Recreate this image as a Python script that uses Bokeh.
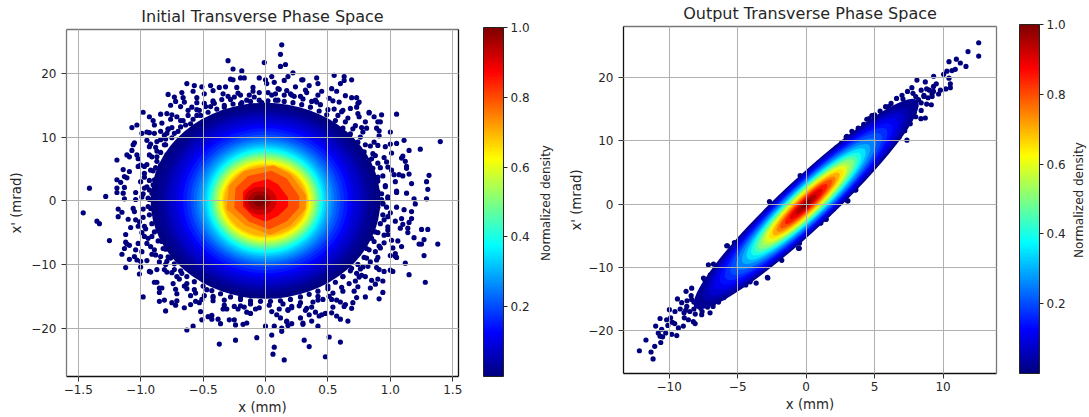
from bokeh.plotting import figure
from bokeh.layouts import row
from bokeh.embed import file_html
from bokeh.resources import INLINE
from bokeh.models import (ColorBar, ColumnDataSource, FixedTicker, LinearAxis,
                          LinearColorMapper, Range1d)
from bokeh.transform import transform

# ---- left panel: density levels (level, x semi-axis mm, x' semi-axis mrad)
init_levels = [0.005, 0.02, 0.04, 0.06, 0.08, 0.10, 0.125, 0.15, 0.175, 0.20, 0.225, 0.25, 0.275, 0.30, 0.325, 0.35,
               0.375, 0.40, 0.425, 0.45, 0.475, 0.50, 0.525, 0.55, 0.575, 0.60, 0.625, 0.65, 0.675, 0.70]
init_semi_x = [0.92, 0.87, 0.82, 0.79, 0.76, 0.72, 0.69, 0.66, 0.63, 0.60, 0.575, 0.55, 0.53, 0.51, 0.49, 0.475,
               0.46, 0.45, 0.44, 0.43, 0.42, 0.41, 0.40, 0.39, 0.38, 0.37, 0.36, 0.35, 0.34, 0.33]
init_semi_y = [15.4, 14.6, 14.0, 13.5, 13.0, 12.4, 11.9, 11.4, 10.9, 10.4, 10.0, 9.65, 9.3, 9.0, 8.7, 8.4,
               8.15, 7.9, 7.7, 7.5, 7.3, 7.1, 6.9, 6.7, 6.5, 6.3, 6.1, 5.9, 5.7, 5.5]
# irregular hot contours
init_blob_levels = [0.74, 0.80, 0.87]
init_blob_x = [[.067, .2, .328, .32, .2, .04, -.16, -.312, -.293, -.173],
               [.05, .17, .27, .27, .17, .03, -.13, -.25, -.24, -.14],
               [.02, .1, .18, .18, .1, 0, -.1, -.18, -.18, -.1]]
init_blob_y = [[5.58, 4.17, .78, -1.3, -3.9, -5.36, -3.9, -1.3, 2.34, 4.69],
               [4.7, 3.5, .7, -1.1, -3.2, -4.5, -3.3, -1.1, 2, 3.9],
               [3.4, 2.6, .5, -.9, -2.4, -3.3, -2.5, -.9, 1.4, 2.8]]
init_core_levels = [0.92, 0.96, 1.0]
init_core_x = [-.04, -.05, -.05]
init_core_semi_x = [.13, .09, .05]
init_core_semi_y = [2.2, 1.5, .9]

init_points = [
 (-1.41,1.98),(-1.28,.68),(-1.19,6.4),(-1.19,3.3),(-1.19,2),(-1.19,1.3),(-1.13,3.8),(-1.13,2.1),(-1.14,1.2),(-1.13,.3),
 (-1.11,7.2),(-1.07,7.9),(-1.05,9.1),(-1.07,11.5),(-1.03,11.9),(-1.09,4.6),(-1.02,6.6),(-1.02,5.4),(-.97,5.4),(-.98,13.9),
 (-.93,13.2),(-.95,10.8),(-.89,11.9),(-.83,12.2),(-.78,16.7),(-.73,16.3),(-.76,15),(-.79,13.7),(-.76,12.8),(-.68,14.8),
 (-.67,17),(-.63,18.4),(-.57,18.1),(-.58,17.2),(-.65,15.5),(-.55,16.2),(-.49,16.8),(-.42,17.3),(-.37,17.8),(-.32,17.9),
 (-.3,22),(-.26,20.7),(-.26,19),(-.19,20.4),(-.17,19.3),(-.23,17.8),(-.05,19.3),(-.01,21.7),(0,19),(.12,21.1),(.16,21.4),
 (.12,23),(.13,24.5),(.05,19.5),
 (-.95,9.5),(-.87,9.3),(-.93,8.5),(-.93,7.2),(-.87,6.9),(-.81,8.8),(-.79,7.2),(-.73,10.6),(-.92,4.8),(-.97,4.3),(-.89,3.3),
 (-.91,1.2),(-1,3),(-.93,.2),(-1.04,.2),(-.89,10.6),(-.81,10.3),(-.68,11.6),(-.6,12.1),(-.71,13.2),(-.59,14.7),(-.49,15.3),
 (-.41,15.3),(-.25,16.3),(-.15,15.8),(-.09,16.3),(.01,18.4),(.07,18.6),(.15,18.9),(.17,17.3),
 (-.53,14.2),(-.44,14.8),(-.33,15),(-.2,15.2),(-.03,15.4),(.05,16.6),(.1,15.8),(-.1,17.2),(-.3,16.4),(-.84,10.9),(-.78,11.2),
 (-.84,5.6),(-.88,5.2),(-.9,2.5),(-.86,3.9),(-.95,2.2),(-.88,.8),(-.98,1.1),(-.87,7.8),(-.8,9.7),(-.66,12.6),(-.55,13.4),
 (-1.46,-1.9),(-1.35,-3.2),(-1.33,-3.6),(-1.25,-6.25),(-1.18,-1.3),(-1.15,-1.8),(-1.1,-2.9),(-1.05,-1.7),(-1.04,-3),(-1.01,-3.3),
 (-1.15,-8.4),(-1.13,-7.5),(-1.12,-6.5),(-1.09,-7),(-1.09,-9.2),(-1.12,-10.5),(-1.05,-8.75),(-1,-9.5),(-1.01,-11.5),(-1.02,-6.7),
 (-.99,-8),(-.95,-9.4),(-.93,-11.1),(-.98,-15.1),(-.87,-12.8),(-.85,-14.4),(-.83,-13.7),(-.81,-15.6),(-.85,-15.8),(-.8,-17.3),
 (-.74,-13),(-.71,-14.6),(-.75,-16),(-.72,-16.4),(-.63,-20.3),(-.58,-19.7),(-.6,-14.9),(-.6,-16.3),(-.56,-15.8),(-.51,-18.7),
 (-.51,-15.5),(-.46,-18.2),(-.43,-18),(-.38,-18.6),(-.36,-19.3),(-.37,-22.5),(-.24,-21.9),(-.25,-18.7),(-.24,-19.5),(-.15,-19.2),
 (-.31,-17),(-.07,-21.5),(0,-19.7),(.07,-19.7),(.05,-21.1),(.07,-23),(.06,-24.1),(.15,-25),(.13,-20.5),(.13,-20),(.17,-19),(.18,-17.2),
 (-.97,-4),(-.95,-6.7),(-.91,-5.6),(-.89,-7.7),(-.84,-8.75),(-.79,-9.5),(-.87,-10.8),(-.81,-10.8),(-.73,-10.8),(-.97,-5.6),
 (-1.02,-4),(-.71,-11.9),(-.65,-13.4),(-.57,-13.96),(-.47,-13.96),(-.88,-2.2),(-.92,-1.2),(-.86,-4.6),(-.83,-6.4),(-.8,-7.6),
 (-.76,-9),(-.67,-11.4),(-.42,-15),(-.33,-15.6),(-.2,-15.2),(-.12,-16.2),(-.05,-16.8),(.03,-16.4),(-.22,-17),(-.15,-17.5),
 (.48,-24.5),(.31,-21.9),(.35,-22.9),(.51,-21.4),(.6,-22.2),(.42,-19.7),(.3,-19.4),(.21,-19.3),(.17,-18.9),(.28,-18.4),(.37,-18.9),
 (.35,-17.9),(.32,-17.2),(.18,-17.1),(.12,-18.4),(.48,-17.7),(.45,-17.9),(.57,-18.1),(.6,-18.6),(.66,-18.9),(.4,-17.5),(.37,-16.7),
 (.54,-16.7),(.69,-16.9),(.7,-16),(.64,-16.3),(.6,-15.9),(.57,-15.6),(.51,-15),(.8,-15.1),(.91,-15.4),(.94,-14.4),(.71,-14.2),
 (.94,-12.6),(.88,-13.1),(.85,-12.5),(.8,-11.9),(.75,-11.98),(1.28,-12.8),(1.15,-11.6),(1.02,-11.1),(.95,-11.1),(.89,-10.5),
 (1.12,-9.8),(1,-8.6),(1.04,-8.7),(1.04,-8.3),(1.27,-8.6),(1.38,-6.8),(1.23,-6.8),(1.25,-6.8),(1.27,-6.1),(1.19,-5.8),(1.06,-6.3),
 (1.01,-6.2),(1.3,-4.5),(1.25,-4.5),(1.14,-4.3),(1.08,-4.3),(1.15,-3.4),(1.09,-2.8),(1.04,-3.2),(.98,-4.1),(1.17,-1.7),(1.11,-1.4),
 (1,-1.9),(.91,-7.1),(.95,-6.6),(.89,-9.3),(.81,-9),(.81,-7.5),(.85,-5.9),(.88,-4.9),(.95,-3),(.84,-3.5),(.82,-10.3),(.76,-10.7),(.69,-10.6),
 (.62,-11.9),(.5,-13.8),(.42,-15),(.28,-16),(.14,-16.2),(.72,-12.6),(.9,-1),(.94,-.4),(.87,-2.4),(.98,-2.5),
 (.22,20.1),(.41,19.3),(.55,19.7),(.63,19.5),(.69,19),(.63,18.9),(.6,18.4),(.57,17.2),(.29,19),(.35,18.1),(.45,17.2),(.51,16.1),
 (.69,16.2),(.73,16.2),(.75,15.5),(.73,14.7),(.68,14.5),(.59,15.5),(.83,13.8),(.87,13.2),(.93,13.5),(1.05,13.6),(.9,12.4),(.75,13.2),
 (.8,12.4),(.81,11.4),(.89,11.4),(.91,10.2),(1,8.9),(1.11,9.5),(1.15,7.9),(1.24,8.1),(1.4,9.3),(.96,8.5),(.97,6.1),(1.09,6.7),(1.12,6.2),
 (1.13,5.4),(1.15,4.2),(1.07,4.1),(1.03,4.1),(1.31,4),(1.29,3),(1.3,1.8),(1.13,1.2),(1.05,1.3),(1.19,.3),(1.29,.3),(1.2,-.5),(1.04,3),(1.01,4.8),
 (.92,5.2),(.95,6.8),(.88,7.1),(.85,6.6),(.9,3.7),(.96,2.2),(.9,1.4),(.98,.4),(.87,9.2),(.78,10.8),(.66,13),(.55,14.4),(.4,15.8),(.28,16.4),
 (.2,16.8),(.32,17.4),(.24,17.9),(.1,17.6),(.42,16.6),(.62,14.2),(.72,11.8),(.84,8.6),
]

# dots that crowd along the rim of the solid core, going round it
init_rim_points = [
 (.93,1.1),(.96,2.4),(.9,3.1),(.94,3.9),(.86,5.1),(.9,5.9),(.83,6.3),(.86,7.4),(.79,7.7),(.8,8.8),(.74,9.2),(.76,10),(.68,10.5),(.7,11.3),
 (.62,11.4),(.64,12.4),(.56,12.6),(.58,13.4),(.49,13.5),(.5,14.3),(.43,14.1),(.44,15.1),(.36,14.7),(.37,15.6),(.29,15.1),(.3,16),(.22,15.4),
 (.23,16.4),(.15,15.6),(.15,16.6),(.08,15.8),(.08,16.8),(.02,15.7),(.02,17),
 (-.05,15.8),(-.05,17),(-.12,15.6),(-.13,16.6),(-.19,15.4),(-.2,16.6),(-.26,15.2),(-.28,15.9),(-.33,14.7),(-.35,15.9),(-.39,14.4),(-.42,15.5),
 (-.46,13.9),(-.48,14.8),(-.52,13.4),(-.55,14.3),(-.58,12.8),(-.62,13.4),(-.64,11.9),(-.68,12.6),(-.7,10.9),(-.75,11.5),(-.75,9.9),(-.79,10.6),
 (-.8,8.8),(-.84,9.6),(-.84,7.6),(-.88,8.4),(-.87,6.2),(-.91,6.9),(-.9,4.7),(-.95,5.7),(-.93,3.2),(-.97,3.7),(-.93,1.7),(-.97,2),(-.94,.4),(-.99,.6),
 (-.94,-.9),(-.98,-1.3),(-.93,-2.2),(-.98,-2.6),(-.91,-3.6),(-.96,-4.4),(-.89,-4.9),(-.94,-5.9),(-.86,-6.3),(-.92,-7.2),(-.82,-7.5),(-.88,-8.5),
 (-.78,-8.8),(-.85,-9.6),(-.73,-9.9),(-.8,-10),(-.68,-11),(-.75,-11.3),(-.63,-11.9),(-.69,-12.3),(-.57,-12.7),(-.63,-13),(-.5,-13.4),(-.56,-14.5),
 (-.43,-14.1),(-.49,-14.9),(-.36,-14.6),(-.42,-15.7),(-.28,-15.1),(-.33,-16.4),(-.2,-15.5),(-.25,-16.6),(-.12,-15.7),(-.17,-16.7),(-.04,-15.8),(-.08,-17),
 (.04,-15.8),(.05,-17.4),(.12,-15.7),(.11,-17),(.2,-15.5),(.21,-16.6),(.28,-15.1),(.27,-16.5),(.35,-14.7),(.38,-15.9),(.42,-14.2),(.46,-15.5),
 (.5,-13.4),(.54,-14.5),(.56,-12.8),(.61,-13.6),(.62,-11.9),(.67,-13),(.68,-11),(.73,-11.4),(.74,-10),(.78,-10.4),(.79,-8.9),(.84,-9.6),(.83,-7.7),
 (.88,-8),(.87,-6.4),(.92,-7.4),(.9,-5),(.95,-5.4),(.92,-3.6),(.98,-4.6),(.94,-2.2),(.97,-1),(.94,-.5),(.98,.6),(.93,.2),
]

# the looser band of dots just outside that rim
init_band_points = [
 (1.05,1.5),(1.1,3.9),(.98,5.3),(1.01,7.5),(.9,8.7),(.91,11),(.77,11.5),(.74,13.7),(.61,14),(.54,15.7),(.41,15.5),(.33,17),(.21,16.6),(.11,17.5),
 (1.17,2.7),(1.13,5.1),(1.1,7),(1.05,9),(1,10.8),(.92,12.4),(.83,13.9),(.74,15.3),(.64,16.5),(.53,17.6),(.42,18.4),(.3,19),(.18,19.5),
 (-1.04,1.3),(-1.11,3.6),(-1.0,5.6),(-1.03,7.2),(-.92,8.9),(-.93,10.7),(-.78,11.3),(-.75,13.5),(-.62,14.2),(-.55,15.4),(-.42,15.7),(-.34,16.8),(-.22,16.9),(-.1,17.8),
 (-1.16,2.9),(-1.14,4.9),(-1.09,6.9),(-1.06,8.8),(-.99,10.6),(-.9,12.6),(-.84,13.6),(-.72,15.6),(-.66,16.2),(-.51,17.9),(-.44,18.1),(-.28,19.1),(-.2,19.3),
 (-1.06,-1.2),(-1.08,-4.2),(-.99,-5),(-1.04,-7.7),(-.91,-8.4),(-.92,-11.2),(-.79,-11.2),(-.72,-13.9),(-.63,-13.8),(-.53,-16),(-.42,-15.2),(-.34,-17),(-.2,-16.5),(-.12,-17.7),
 (-1.18,-2.5),(-1.12,-5.3),(-1.11,-6.8),(-1.03,-9.3),(-1,-10.4),(-.89,-12.8),(-.85,-13.7),(-.71,-15.7),(-.65,-16.8),(-.52,-17.4),(-.43,-18.6),(-.29,-18.7),(-.18,-19.4),
 (1.05,-1),(1.1,-3.7),(.98,-5.3),(1.02,-7.4),(.9,-8.9),(.91,-10.8),(.77,-11.7),(.74,-13.5),(.62,-14.2),(.53,-15.5),(.42,-15.6),(.33,-16.9),(.21,-16.8),(.09,-17.9),
 (1.17,-2.8),(1.14,-5),(1.09,-7.2),(1.05,-8.9),(1,-10.9),(.9,-12.3),(.84,-13.7),(.73,-15.2),(.63,-16.6),(.53,-17.6),(.43,-18.1),(.3,-19.2),(.18,-19.6),
]

# ---- right panel: (level, semi-axis along the beam in mm, semi-axis across it in mrad)
final_levels = [0.02, 0.05, 0.08, 0.11, 0.14, 0.17, 0.2, 0.25, 0.3, 0.35, 0.4, 0.45, 0.5, 0.55, 0.6, 0.65, 0.7,
                0.75, 0.8, 0.85, 0.9, 0.95, 1.0]
final_major = [11.1, 10.2, 9.65, 9.06, 8.5, 8.0, 7.45, 6.9, 6.3, 5.85, 5.4, 5.05, 4.7, 4.3, 4.0, 3.65, 3.3,
               2.9, 2.55, 2.1, 1.6, 1.0, .5]
final_minor = [4.0, 3.8, 3.65, 3.5, 3.35, 3.2, 3.07, 2.9, 2.67, 2.5, 2.36, 2.2, 2.05, 1.9, 1.73, 1.57, 1.4,
               1.2, 1.05, .88, .7, .5, .3]

final_points = [
 (-12.18,-23.2),(-11.7,-21.5),(-11.33,-23.4),(-11.18,-24.5),(-11.06,-22.5),(-10.62,-21.9),(-10.99,-19.3),(-10.55,-19.8),(-10.8,-20.4),
 (-10.67,-20.9),(-10.48,-21),(-10.26,-20.4),(-9.82,-20.6),(-9.45,-20.8),(-10.67,-18.1),(-10.19,-18.3),(-9.99,-16.7),(-9.77,-18.7),
 (-9.58,-17),(-9.4,-15),(-9.09,-15.6),(-8.77,-13.8),(-8.36,-13.3),(-8.92,-17.2),(-8.97,-19.3),(-9.33,-19.6),(-8.24,-18.6),(-8.11,-18.9),
 (-7.63,-17.5),(-7.02,-17.2),(-8.72,-16.2),(-8.36,-15.1),(-7.5,-11.7),(-5.8,-6.6),(-5.24,-6.1),(-2.83,-11.6),(-3.65,-12.5),(-4.41,-12.8),
 (-4.09,-12.3),(-5.68,-14),(-6.4,-14.6),(-6.77,-15.7),(-7.14,-9.6),(-6.77,-9.5),(-2.27,-8.6),(-1.78,-8.9),(-.56,-7),(-.49,-6.2),(-1.17,-6.5),
 (1.02,-3),(1.44,-2.4),
 (12.6,25.5),(11.82,24.1),(12.6,23.4),(11.67,21.75),(11.26,22.3),(10.97,22.9),(10.43,22.5),(10.89,21.3),(10.65,21.1),(10.28,21),(10.04,20.5),
 (10.43,19.9),(9.31,20.2),(8.7,19.3),(8.09,19.6),(9.5,19),(10.53,19),(10.53,18.4),(10.2,18.2),(9.67,17.4),(9.19,17.4),(9.14,15.7),(7.72,18.4),
 (8.7,13.6),(8.38,13.5),(7.36,10.1),(4.43,13.4),(2.97,10.7),(3.34,11.5),(4.8,14),(6.02,15.4),(7.07,16.6),(3.58,2.2),(3.02,.5),
 (-.44,4.5),(-2.68,.4),(-5.75,-6.6),(-2.8,-11.7),(1.46,-2.4),(1.07,-3),(3.05,.5),(3.63,2.25),(2.92,10.6),(.9,6.5),(-.5,-7),
 (8.4,18),(8.8,18.2),(9,18),(8.6,17.2),(9.3,18.6),(9.8,18),(8,17),(7.8,17.5),(8.2,16.5),(9.3,17.8),
 (-8.5,-17),(-8.2,-16.6),(-8,-16),(-7.9,-15.5),(-8.7,-15.3),(-8.4,-14.5),(-9.2,-16.6),(-8.9,-18),(-8.6,-18.3),(-9.6,-18.9),(-9.9,-18),
 (-10.1,-19.2),(-8.1,-17.4),(-7.7,-16.5),(-7.3,-15.6),(-7.6,-14.8),
]

# dots along the two long edges of the beam and inside its tips
final_edge_points = [
 (-7.4,-12),(-7,-11.2),(-6.6,-10.6),(-6.2,-9.6),(-5.8,-8.6),(-5.4,-7.6),(-5,-6.8),(-4.6,-5.7),(-4.2,-5),(-3.8,-4.1),(-3.4,-3.4),(-3,-2.6),(-2.6,-1.7),
 (-2.2,-.8),(-1.8,.1),(-1.4,1.2),(-1,1.9),(-.6,3),(-.2,3.9),(.2,4.9),(.6,5.6),(1,6.3),(1.4,7.3),(1.8,8),(2.2,8.9),(2.6,9.7),(3,10.4),(3.4,11.1),(3.8,12),
 (4.2,12.6),(4.6,13.5),(5,14.1),(5.4,14.7),(5.8,15.4),(6.2,15.9),(6.6,16.7),(7,17.2),(7.4,17.8),
 (-7.6,-17),(-7.2,-16.3),(-6.8,-16.2),(-6.4,-15.5),(-6,-14.8),(-5.6,-14),(-5.2,-13.4),(-4.8,-12.7),(-4.4,-12),(-4,-11.4),(-3.6,-10.6),(-3.2,-10),
 (-2.8,-9.4),(-2.4,-8.7),(-2,-7.9),(-1.6,-7.1),(-1.2,-6.2),(-.8,-5.6),(-.4,-5),(0,-4.4),(.4,-3.6),(.8,-3.1),(1.2,-2.4),(1.6,-1.6),(2,-.8),(2.4,.1),
 (2.8,1),(3.2,2),(3.6,2.9),(4,3.8),(4.4,4.8),(4.8,5.7),(5.2,6.7),(5.6,7.7),(6,8.8),(6.4,9.7),(6.8,10.6),(7.2,11.6),(7.6,12.7),(8,13.8),(8.4,14.8),(8.8,15.8),
 (6.8,13),(7.2,14),(7.6,15),(8,15.5),(8.4,16),(7.5,13.5),(7.9,14.5),(8.6,17),(8.9,16.8),(9.2,17),(7,15),(7.4,16),(7.8,16.2),
 (-8.8,-16.8),(-7.8,-14.9),(-7.2,-13.5),(-6.8,-13),(-7.5,-13),(-7,-14.5),(-6.5,-12),(-8.2,-15.5),(-7.6,-15.6),(-6.6,-14),
]

init_xticks = [-1.5, -1.0, -0.5, 0.0, 0.5, 1.0, 1.5]
init_xlabels = ["−1.5", "−1.0", "−0.5", "0.0", "0.5", "1.0", "1.5"]
init_yticks = [-20, -10, 0, 10, 20]
init_ylabels = ["−20", "−10", "0", "10", "20"]
final_xticks = [-10, -5, 0, 5, 10]
final_xlabels = ["−10", "−5", "0", "5", "10"]
final_yticks = [-20, -10, 0, 10, 20]
final_ylabels = ["−20", "−10", "0", "10", "20"]
cbar_ticks = [0.2, 0.4, 0.6, 0.8, 1.0]
cbar_labels = ["0.2", "0.4", "0.6", "0.8", "1.0"]
cbar_title = "Normalized density"

BEAM_ANGLE = 0.75  # radians on screen
FONT = "DejaVu Sans"
TXT = "#262626"
DOT = "#00007f"
TOP, BOTTOM = 29, 39  # both panels share these; the right one is lifted by a margin
LIFT = 3


def jet():
    out = []
    for i in range(256):
        t = i / 255
        r = min(max(min(4 * t - 1.5, -4 * t + 4.5), 0), 1)
        g = min(max(min(4 * t - 0.5, -4 * t + 3.5), 0), 1)
        b = min(max(min(4 * t + 0.5, -4 * t + 2.5), 0), 1)
        out.append("#%02x%02x%02x" % (int(r * 255), int(g * 255), int(b * 255)))
    return out


JET = jet()
mapper = LinearColorMapper(palette=JET, low=0, high=1)


def spine(p, side, color):
    ax = LinearAxis(ticker=FixedTicker(ticks=[]), major_label_text_font_size="0px",
                    axis_line_color=color, axis_line_width=1.3,
                    major_tick_line_color=None, minor_tick_line_color=None,
                    major_tick_in=0, major_tick_out=0, minor_tick_in=0, minor_tick_out=0,
                    major_label_standoff=0)
    p.add_layout(ax, side)


def panel(title, xr, yr, w, h, bl, br, xt, xl, yt, yl, colors, cb_x, ylabel_standoff):
    p = figure(width=w, height=h, x_range=Range1d(*xr), y_range=Range1d(*yr), title=title,
               output_backend="svg", toolbar_location=None, tools="",
               min_border_left=bl, min_border_right=br, min_border_top=TOP, min_border_bottom=BOTTOM,
               x_axis_label="x (mm)", y_axis_label="x' (mrad)")
    p.outline_line_color = None
    p.title.align = "center"
    p.title.text_font = FONT
    p.title.text_font_size = "16px"
    p.title.text_font_style = "normal"
    p.title.text_color = TXT
    p.title.standoff = 7
    for ax, ticks, labels in ((p.xaxis[0], xt, xl), (p.yaxis[0], yt, yl)):
        ax.ticker = FixedTicker(ticks=ticks)
        ax.major_label_overrides = dict(zip(ticks, labels))
        ax.major_label_text_font = FONT
        ax.major_label_text_font_size = "12px"
        ax.major_label_text_color = TXT
        ax.axis_label_text_font = FONT
        ax.axis_label_text_font_size = "13.3px"
        ax.axis_label_text_font_style = "normal"
        ax.axis_label_text_color = TXT
        ax.major_tick_in = 0
        ax.major_tick_out = 5
        ax.minor_tick_line_color = None
        ax.major_tick_line_color = "#333333"
    p.xaxis[0].major_label_standoff = 3
    p.yaxis[0].major_label_standoff = 5
    p.xaxis[0].axis_label_standoff = 3
    p.yaxis[0].axis_label_standoff = ylabel_standoff
    p.xaxis[0].axis_line_color = colors[0]
    p.yaxis[0].axis_line_color = colors[1]
    p.xaxis[0].axis_line_width = 1.3
    p.yaxis[0].axis_line_width = 1.3
    spine(p, "above", colors[2])
    spine(p, "right", colors[3])
    p.grid.grid_line_color = "#b0b0b0"
    p.grid.grid_line_width = 1
    p.grid.level = "overlay"
    p.xgrid.ticker = FixedTicker(ticks=xt)
    p.ygrid.ticker = FixedTicker(ticks=yt)
    fh = h - TOP - BOTTOM
    bar = ColorBar(color_mapper=mapper, location=(cb_x, 0), width=20, height=fh, padding=0, margin=0,
                   ticker=FixedTicker(ticks=cbar_ticks), major_label_overrides=dict(zip(cbar_ticks, cbar_labels)),
                   major_label_text_font=FONT, major_label_text_font_size="12px", major_label_text_color=TXT,
                   major_tick_in=0, major_tick_out=4, major_tick_line_color="#222222", minor_tick_line_color=None,
                   bar_line_color="#222222", label_standoff=3)
    p.add_layout(bar, "center")
    return p


def bar_label(w, h, bl):
    """A narrow strip whose only content is the colour bar's rotated caption."""
    q = figure(width=w, height=h, x_range=Range1d(0, 1), y_range=Range1d(0, 1), output_backend="svg",
               toolbar_location=None, tools="", min_border_left=bl, min_border_right=0,
               min_border_top=TOP, min_border_bottom=BOTTOM, y_axis_label=cbar_title, x_axis_location=None)
    q.outline_line_color = None
    q.grid.visible = False
    ax = q.yaxis[0]
    ax.ticker = FixedTicker(ticks=[])
    ax.major_label_text_font_size = "0px"
    ax.major_tick_in = 0
    ax.major_tick_out = 0
    ax.minor_tick_in = 0
    ax.minor_tick_out = 0
    ax.major_label_standoff = 0
    ax.axis_label_standoff = 0
    ax.axis_line_color = None
    ax.major_tick_line_color = None
    ax.minor_tick_line_color = None
    ax.axis_label_text_font = FONT
    ax.axis_label_text_font_size = "12px"
    ax.axis_label_text_font_style = "normal"
    ax.axis_label_text_color = TXT
    return q


# ---------- left
p1 = panel("Initial Transverse Phase Space", (-1.594, 1.546), (-27.6, 26.9), 535, 417, 66, 77,
           init_xticks, init_xlabels, init_yticks, init_ylabels, ("#111111", "#777777", "#777777", "#111111"),
           417, 4)
all_init = init_points + init_rim_points + init_band_points
s = ColumnDataSource(dict(x=[q[0] for q in all_init], y=[q[1] for q in all_init]))
p1.scatter("x", "y", source=s, size=5.2, color=DOT, line_width=0)
s = ColumnDataSource(dict(x=[0.0] * len(init_levels), y=[0.0] * len(init_levels), level=init_levels,
                          w=[2 * v for v in init_semi_x], h=[2 * v for v in init_semi_y]))
p1.ellipse("x", "y", width="w", height="h", source=s, fill_color=transform("level", mapper), line_color=None)
s = ColumnDataSource(dict(xs=init_blob_x, ys=init_blob_y, level=init_blob_levels))
p1.patches("xs", "ys", source=s, fill_color=transform("level", mapper), line_color=None)
s = ColumnDataSource(dict(x=init_core_x, y=[0.0] * len(init_core_x), level=init_core_levels,
                          w=[2 * v for v in init_core_semi_x], h=[2 * v for v in init_core_semi_y]))
p1.ellipse("x", "y", width="w", height="h", source=s, fill_color=transform("level", mapper), line_color=None)
lab1 = bar_label(30, 417, 12)

# ---------- right
p2 = panel("Output Transverse Phase Space", (-13.34, 13.9), (-26.8, 28.07), 503, 417, 58, 72,
           final_xticks, final_xlabels, final_yticks, final_ylabels, ("#111111", "#111111", "#777777", "#777777"),
           396, 1)
p2.margin = (-LIFT, 0, LIFT, 0)
all_final = final_points + final_edge_points
s = ColumnDataSource(dict(x=[q[0] for q in all_final], y=[q[1] for q in all_final]))
p2.scatter("x", "y", source=s, size=5.2, color=DOT, line_width=0)
s = ColumnDataSource(dict(x=[0.0] * len(final_levels), y=[0.0] * len(final_levels), level=final_levels,
                          w=[2 * v for v in final_major], h=[2 * v for v in final_minor]))
p2.ellipse("x", "y", width="w", height="h", angle=BEAM_ANGLE, source=s, fill_color=transform("level", mapper),
           line_color=None)
lab2 = bar_label(21, 417, 15)
lab2.margin = (-LIFT, 0, LIFT, 0)

layout = row(p1, lab1, p2, lab2, spacing=0)
open("out.html", "w").write(file_html(layout, INLINE))
